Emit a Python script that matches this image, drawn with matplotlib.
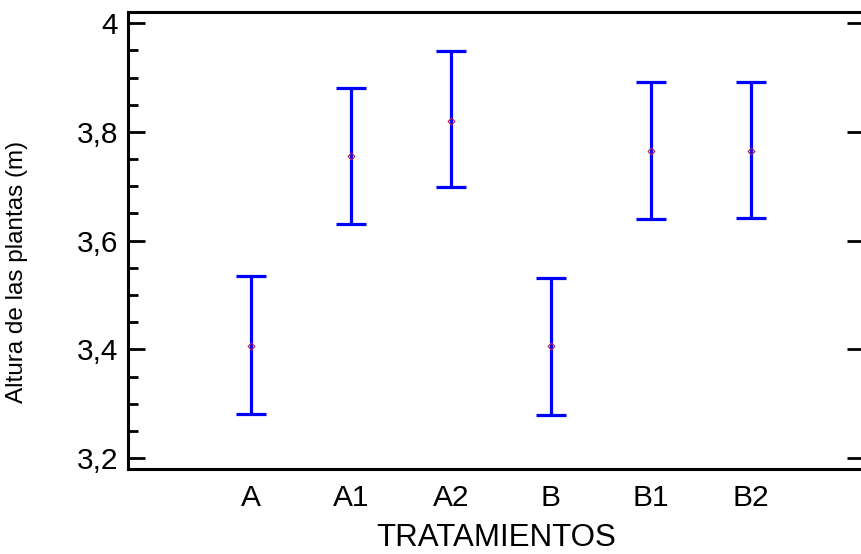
import matplotlib
matplotlib.use('Agg')
import matplotlib.pyplot as plt
from matplotlib.ticker import MultipleLocator, FuncFormatter

plt.rcParams['font.family'] = ['Liberation Sans', 'DejaVu Sans']

# medias e intervalos
tratamientos = ['A', 'A1', 'A2', 'B', 'B1', 'B2']
medias = [3.407, 3.756, 3.821, 3.406, 3.765, 3.765]
limite_inf = [3.281, 3.631, 3.698, 3.280, 3.640, 3.641]
limite_sup = [3.535, 3.881, 3.949, 3.531, 3.892, 3.892]

pos = list(range(1, len(tratamientos) + 1))
err_low = [m - l for m, l in zip(medias, limite_inf)]
err_up = [u - m for m, u in zip(medias, limite_sup)]

fig = plt.figure(figsize=(8.62, 5.54), dpi=100)
ax = fig.add_axes([0.1485, 0.1534, 0.8535, 0.825])

ax.errorbar(pos, medias, yerr=[err_low, err_up], fmt='none', ecolor='#0000ff',
            elinewidth=2.3, capsize=11, capthick=2.3)
ax.plot(pos, medias, linestyle='none', marker='D', markersize=3.5,
        markerfacecolor='none', markeredgecolor='#b0205a', markeredgewidth=0.8)

ax.set_xlim(-0.23, 7.13)
ax.set_ylim(3.1798, 4.0207)
ax.set_xticks(pos)
ax.set_xticklabels(tratamientos)
ax.tick_params(axis='x', length=0, labelsize=21.5, pad=11)

ax.yaxis.set_major_locator(MultipleLocator(0.2))
ax.yaxis.set_minor_locator(MultipleLocator(0.05))
ax.yaxis.set_major_formatter(FuncFormatter(lambda v, p: ('%g' % round(v, 1)).replace('.', ',')))
ax.tick_params(axis='y', which='major', direction='in', length=12, width=2,
               labelsize=21.5, right=True, pad=7)
ax.tick_params(axis='y', which='minor', direction='in', length=7, width=2)
ax.tick_params(axis='y', which='minor', right=False)

for s in ax.spines.values():
    s.set_linewidth(2.2)

ax.set_xlabel('TRATAMIENTOS', fontsize=22.5)
ax.xaxis.set_label_coords(0.5, -0.118)
ax.set_ylabel('Altura de las plantas (m)', fontsize=17.5)
ax.yaxis.set_label_coords(-0.136, 0.431)

fig.savefig('out.png', dpi=100)
